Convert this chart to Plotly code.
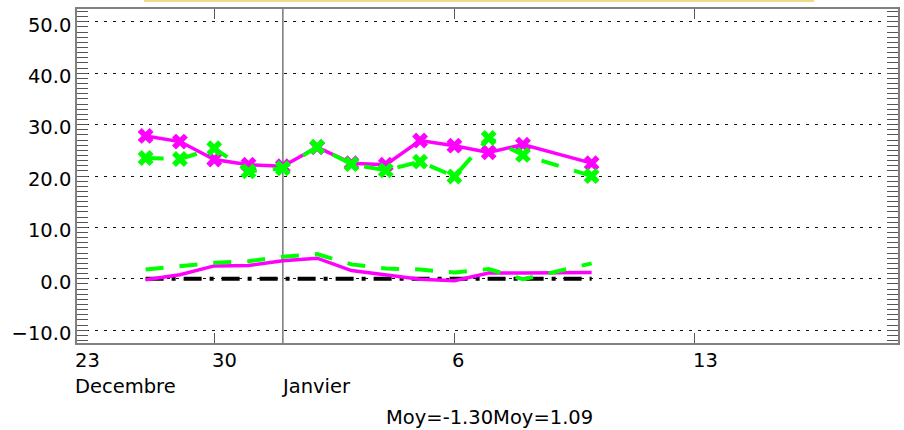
import plotly.graph_objects as go

# Days counted from 1 Janvier (0 = 1 Jan, -4 = 28 Dec, ...)
jours = [-4, -3, -2, -1, 0, 1, 2, 3, 4, 5, 6, 7, 9]

haut_magenta = [27.8, 26.7, 23.2, 22.2, 21.9, 25.6, 22.5, 22.2, 26.9, 25.9, 24.6, 26.1, 22.5]
haut_vert = [23.5, 23.3, 25.4, 20.9, 21.5, 25.7, 22.3, 21.1, 22.8, 19.9, 27.4, 24.1, 20.0]
bas_magenta = [-0.2, 0.8, 2.5, 2.6, 3.5, 4.0, 1.6, 0.8, -0.1, -0.4, 1.1, 1.1, 1.2]
bas_vert = [1.8, 2.4, 3.1, 3.4, 4.3, 4.8, 2.8, 2.0, 1.8, 1.2, 1.9, -0.1, 3.0]
zero = [0, 0, 0, 0, 0, 0, 0, 0, 0, 0, 0, 0, 0]

tick_jours = [-6, -2, 5, 12]
tick_text = ["23", "30", "6", "13"]
mois_jours = [-6, 0]
mois_text = ["Decembre", "Janvier"]
moyennes = [-1.30, 1.09]
y_ticks = [-10, 0, 10, 20, 30, 40, 50]

FONT = "DejaVu Sans"
FS = 19.5
MAG = "#FF00FF"
VERT = "#00FF00"
DASH = "18px,16px"

fig = go.Figure()
fig.add_trace(go.Scatter(x=jours, y=zero, mode="lines",
                         line=dict(color="black", width=4, dash="18px,8px,4px,8px")))
fig.add_trace(go.Scatter(x=jours, y=bas_magenta, mode="lines",
                         line=dict(color=MAG, width=3.5)))
fig.add_trace(go.Scatter(x=jours, y=bas_vert, mode="lines",
                         line=dict(color=VERT, width=4, dash=DASH)))
fig.add_trace(go.Scatter(x=jours, y=haut_magenta, mode="lines+markers",
                         line=dict(color=MAG, width=3.5),
                         marker=dict(symbol="x", size=14, color=MAG, line=dict(width=0))))
fig.add_trace(go.Scatter(x=jours, y=haut_vert, mode="lines+markers",
                         line=dict(color=VERT, width=4, dash=DASH),
                         marker=dict(symbol="x", size=14, color=VERT, line=dict(width=0))))

fig.update_layout(
    width=904, height=430,
    margin=dict(l=77, r=4, t=9, b=87),
    plot_bgcolor="white", paper_bgcolor="white",
    showlegend=False,
    font=dict(family=FONT, size=FS, color="black"),
    xaxis=dict(range=[-6, 17.93], tickvals=tick_jours, ticks="inside", ticklen=10,
               tickcolor="#555", tickwidth=1, showticklabels=False,
               showgrid=False, zeroline=False, showline=True, mirror="ticks",
               linecolor="#808080", linewidth=1.5),
    yaxis=dict(range=[-12.5, 52.5], tickvals=y_ticks, tickformat=".1f",
               ticks="inside", ticklen=11, tickcolor="#555", tickwidth=1,
               minor=dict(dtick=1, tick0=0, ticks="inside", ticklen=11,
                          tickcolor="#555", tickwidth=1, showgrid=False),
               showgrid=True, gridcolor="#111", griddash="3px,6px", gridwidth=1,
               zeroline=False, showline=True, mirror="ticks",
               linecolor="#808080", linewidth=1.5,
               tickfont=dict(family=FONT, size=FS), ticklabelshift=3),
)

fig.add_shape(type="line", xref="x", yref="paper", x0=0, x1=0, y0=0, y1=1,
              line=dict(color="#777", width=1.5), layer="between")
fig.add_shape(type="rect", xref="paper", yref="paper", x0=0.0814, x1=0.898,
              y0=1.021, y1=1.03, fillcolor="#EFDA8B", line=dict(width=0))

for tv, tt in zip(tick_jours, tick_text):
    fig.add_annotation(x=tv, xref="x", y=0, yref="paper", text=tt, showarrow=False,
                       xanchor="left", yanchor="middle", yshift=-17, xshift=-4,
                       font=dict(family=FONT, size=FS))
for mv, mt in zip(mois_jours, mois_text):
    fig.add_annotation(x=mv, xref="x", y=0, yref="paper", text=mt, showarrow=False,
                       xanchor="left", yanchor="middle", yshift=-43, xshift=-4,
                       font=dict(family=FONT, size=FS))
moy_text = "".join("Moy=%.2f" % m for m in moyennes)
fig.add_annotation(x=0.503, xref="paper", y=0, yref="paper", text=moy_text,
                   showarrow=False, xanchor="center", yanchor="middle", yshift=-74,
                   font=dict(family=FONT, size=FS))

fig.write_html("out.html")
